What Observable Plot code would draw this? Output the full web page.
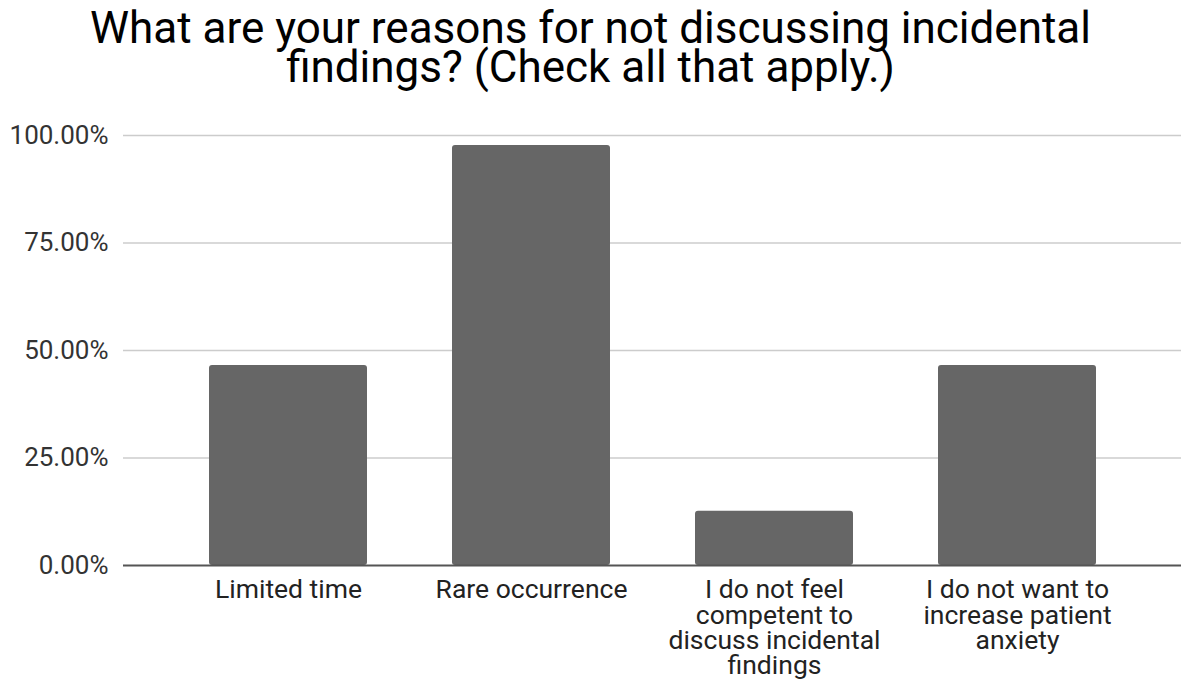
<!DOCTYPE html>
<html>
<head>
<meta charset="utf-8">
<script src="https://cdn.jsdelivr.net/npm/d3@7"></script>
<script src="https://cdn.jsdelivr.net/npm/@observablehq/plot@0.6"></script>
<style>
  html, body { margin: 0; padding: 0; background: #fff; }
  body { width: 1181px; height: 683px; overflow: hidden; font-family: Roboto, "Noto Sans", sans-serif; }
  #title {
    box-sizing: border-box;
    height: 110px;
    padding-top: 9px;
    text-align: center;
    font-size: 44px;
    line-height: 39px;
    color: #000;
  }
  #chart svg { display: block; }
</style>
</head>
<body>
<div id="title">What are your reasons for not discussing incidental<br>findings? (Check all that apply.)</div>
<div id="chart"></div>
<script>
// Answer options (line breaks as shown under each bar)
const reasons = [
  "Limited time",
  "Rare occurrence",
  "I do not feel\ncompetent to\ndiscuss incidental\nfindings",
  "I do not want to\nincrease patient\nanxiety"
];
// Share of respondents selecting each reason
const shares = [0.465, 0.977, 0.126, 0.465];
// Y-axis ticks
const yTicks = [0, 0.25, 0.5, 0.75, 1];

const data = reasons.map((reason, i) => ({reason, share: shares[i]}));

const chart = Plot.plot({
  width: 1181,
  height: 573,
  marginTop: 25,
  marginBottom: 118,
  marginLeft: 123,
  marginRight: 0,
  style: {fontFamily: "Roboto, sans-serif", background: "#fff", overflow: "visible"},
  x: {domain: reasons, padding: 0.35, label: null},
  y: {domain: [0, 1], label: null},
  marks: [
    Plot.ruleY(yTicks.filter(d => d > 0), {stroke: "#cccccc", strokeWidth: 1.5}),
    Plot.barY(data, {x: "reason", y: "share", fill: "#666666", rx: 3}),
    Plot.ruleY([0], {stroke: "#555555", strokeWidth: 2}),
    Plot.axisY({
      ticks: yTicks,
      tickFormat: d3.format(".2%"),
      tickSize: 0,
      tickPadding: 15,
      fontSize: 26,
      fill: "#333",
      label: null
    }),
    Plot.axisX({
      tickSize: 0,
      tickPadding: 15,
      fontSize: 26.5,
      lineHeight: 0.955,
      fill: "#222",
      label: null
    })
  ]
});
document.getElementById("chart").append(chart);
</script>
</body>
</html>
